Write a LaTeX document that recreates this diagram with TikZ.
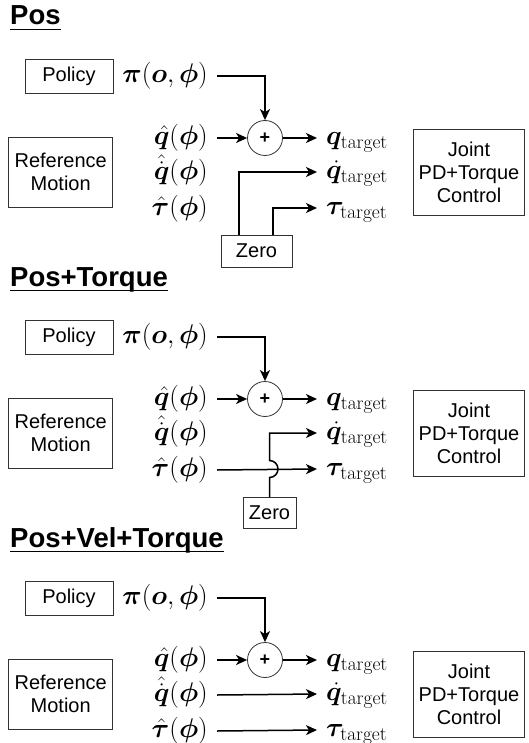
\RequirePackage{fix-cm}
\documentclass[tikz,border=0pt]{standalone}
\usepackage{amsmath,bm}
\usepackage[no-math]{fontspec}
\setmainfont{Liberation Sans}
\usetikzlibrary{arrows.meta,calc}
\newcommand\tgt{\mbox{\fontsize{19.5}{20}\usefont{OT1}{cmr}{m}{n}target}}
\newcommand\mlb[1]{$\vphantom{(}\smash{#1}$}
\tikzset{
 box/.style={draw=black!80, line width=0.9pt, font=\fontsize{20}{23}\selectfont, align=center, inner sep=0pt},
 conn/.style={line width=1.5pt, -{Stealth[length=11pt,width=10pt,inset=3pt]}},
 mlab/.style={inner xsep=9pt, inner ysep=0pt, font=\fontsize{27}{30}\selectfont},
 titl/.style={font=\bfseries\fontsize{27.5}{30}\selectfont, inner sep=0pt, anchor=base west},
 sumc/.style={draw=black!80, circle, line width=0.8pt, minimum size=35pt, inner sep=0pt, font=\bfseries\fontsize{18}{18}\selectfont},
}
\newcommand\secbase[2]{%
  \node[titl] (t#1) at (10,25) {#2};
  \draw[line width=1.5pt] ($(t#1.base west)+(0,4.5)$) -- ($(t#1.base east)+(0,4.5)$);
  \node[box, minimum width=88pt, minimum height=34pt] (pol#1) at (69,76) {Policy};
  \node[mlab, anchor=east] (pi#1) at (217,76) {\mlb{\boldsymbol{\pi}(\boldsymbol{o},\boldsymbol{\phi})}};
  \node[sumc] (s#1) at (265,138) {+};
  \node[mlab, anchor=east] (qh#1) at (217,138) {\mlb{\hat{\boldsymbol{q}}(\boldsymbol{\phi})}};
  \node[mlab, anchor=east] (qdh#1) at (217,173) {\mlb{\hat{\dot{\boldsymbol{q}}}(\boldsymbol{\phi})}};
  \node[mlab, anchor=east] (tauh#1) at (217,209) {\mlb{\hat{\boldsymbol{\tau}}(\boldsymbol{\phi})}};
  \node[mlab, anchor=west] (qt#1) at (317,138) {\mlb{\boldsymbol{q}_{\tgt}}};
  \node[mlab, anchor=west] (qdt#1) at (317,172) {\mlb{\dot{\boldsymbol{q}}_{\tgt}}};
  \node[mlab, anchor=west] (taut#1) at (317,208) {\mlb{\boldsymbol{\tau}_{\tgt}}};
  \node[box, minimum width=104pt, minimum height=70pt] (ref#1) at (60.7,172) {Reference\\Motion};
  \node[box, minimum width=111pt, minimum height=86pt] (jnt#1) at (469,172.5) {Joint\\PD+Torque\\Control};
  \draw[conn] (pi#1.east) -| (s#1.north);
  \draw[conn] (qh#1.east) -- (s#1.west);
  \draw[conn] (s#1.east) -- (qt#1.west);
}
\begin{document}
\begin{tikzpicture}[x=1pt,y=-1pt]
\useasboundingbox (0,0) rectangle (528,743);
% Section 1
\begin{scope}
  \secbase{a}{Pos}
  \node[box, minimum width=71pt, minimum height=32pt] (za) at (256.5,251) {Zero};
  \draw[conn] ($(za.north)+(-17.5,0)$) |- (qdta.west);
  \draw[conn] ($(za.north)+(16.5,0)$) |- (tauta.west);
\end{scope}
% Section 2
\begin{scope}[yshift=-261pt]
  \secbase{b}{Pos+Torque}
  \node[box, minimum width=53pt, minimum height=31pt] (zb) at (269.5,252) {Zero};
  \draw[conn] (tauhb.east) -- (tautb.west);
  \draw[conn] (zb.north) -- ($(zb.north |- tautb.west)+(0,8.5)$)
     arc[start angle=-90, end angle=90, radius=8.5pt] |- (qdtb.west);
\end{scope}
% Section 3
\begin{scope}[yshift=-522pt]
  \secbase{c}{Pos+Vel+Torque}
  \draw[conn] (qdhc.east) -- (qdtc.west);
  \draw[conn] (tauhc.east) -- (tautc.west);
\end{scope}
\end{tikzpicture}
\end{document}
